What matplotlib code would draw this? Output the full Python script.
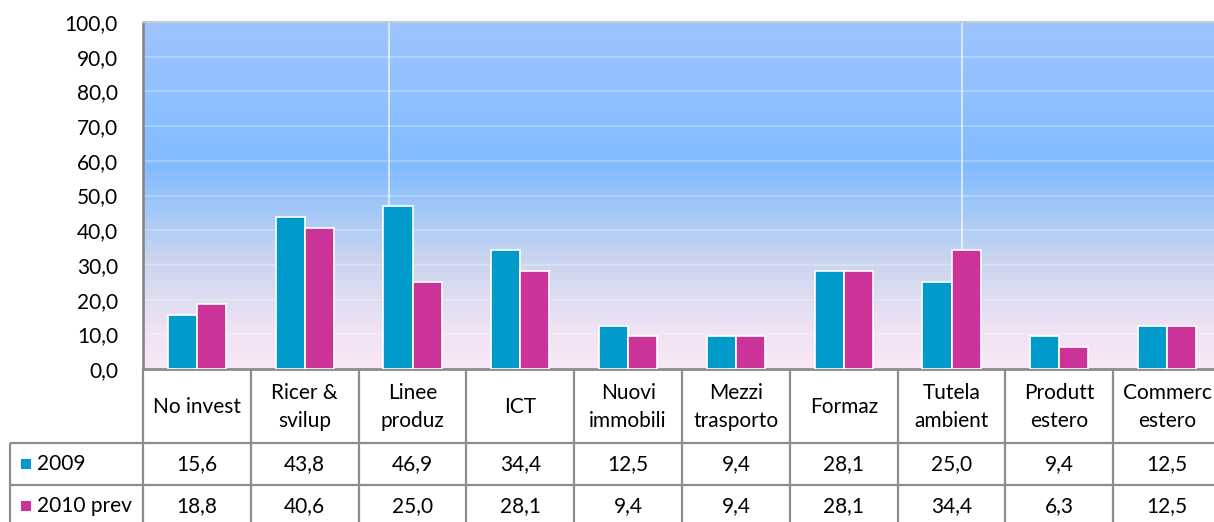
import matplotlib
matplotlib.use("Agg")
import matplotlib.pyplot as plt
import numpy as np
from matplotlib.colors import LinearSegmentedColormap

# --- data -------------------------------------------------------------
categories = ["No invest", "Ricer &\nsvilup", "Linee\nproduz", "ICT",
              "Nuovi\nimmobili", "Mezzi\ntrasporto", "Formaz",
              "Tutela\nambient", "Produtt\nestero", "Commerc\nestero"]
series_names = ["2009", "2010 prev"]
values_2009 = [15.6, 43.8, 46.9, 34.4, 12.5, 9.4, 28.1, 25.0, 9.4, 12.5]
values_2010 = [18.8, 40.6, 25.0, 28.1, 9.4, 9.4, 28.1, 34.4, 6.3, 12.5]
y_ticks = [0, 10, 20, 30, 40, 50, 60, 70, 80, 90, 100]

colors = ["#009BCB", "#CC3399"]
grey = "#8C8C8C"

plt.rcParams["font.family"] = ["Lato", "DejaVu Sans"]

W, H = 1214, 522
fig = plt.figure(figsize=(W / 100, H / 100), dpi=100)
fig.patch.set_facecolor("white")

col_w = 107.8          # width of one category column, px
x0 = 143               # left edge of plot, px
plot_top, plot_bot = 22, 369
n = len(categories)

ax = fig.add_axes([x0 / W, (H - plot_bot) / H, n * col_w / W,
                   (plot_bot - plot_top) / H])
ax.set_xlim(-0.5, n - 0.5)
ax.set_ylim(0, 100)

# gradient plot-area background
bg = LinearSegmentedColormap.from_list(
    "bg", [(0.0, "#FAE8F8"), (0.12, "#EEE2F3"), (0.32, "#C8D5F0"),
           (0.58, "#82BCFF"), (0.8, "#90C1FF"), (1.0, "#9EC4FE")])
grad = np.linspace(0, 1, 256).reshape(-1, 1)
ax.imshow(grad, cmap=bg, origin="lower", aspect="auto",
          extent=(-0.5, n - 0.5, 0, 100), zorder=0)

# gridlines
for t in y_ticks[1:-1]:
    ax.axhline(t, color="white", lw=1.4, alpha=0.25, zorder=1)
for xv in (1.78, 7.10):
    ax.axvline(xv, color="white", lw=1.2, alpha=0.75, zorder=1)

x = np.arange(n)
bw = 0.27
ax.bar(x - bw / 2, values_2009, bw, color=colors[0], edgecolor="white",
       lw=1.2, zorder=3)
ax.bar(x + bw / 2, values_2010, bw, color=colors[1], edgecolor="white",
       lw=1.2, zorder=3)

fs = 15
ax.set_yticks(y_ticks)
ax.set_yticklabels([f"{t:.1f}".replace(".", ",") for t in y_ticks],
                   fontsize=fs, color="black")
ax.tick_params(axis="y", length=0, pad=18)
ax.set_xticks([])
ax.spines["right"].set_visible(False)
ax.spines["top"].set_color("#C4C9D2")
ax.spines["top"].set_linewidth(1.5)
ax.spines["left"].set_color(grey)
ax.spines["left"].set_linewidth(2)
ax.spines["bottom"].set_color(grey)
ax.spines["bottom"].set_linewidth(2)

# --- data table ---------------------------------------------------------
tab = fig.add_axes([x0 / W, 0, n * col_w / W, (H - plot_bot) / H])
tab.set_xlim(-0.5, n - 0.5)
tab.set_ylim(H, plot_bot)
tab.axis("off")


def px(xp):
    return (xp - x0) / col_w - 0.5


row1, row2, row3 = 443, 485, 527
left = px(10)
lk = dict(color=grey, lw=1.6, clip_on=False, solid_capstyle="butt")
for i in range(n + 1):
    tab.plot([i - 0.5, i - 0.5], [plot_bot, H], **lk)
tab.plot([left, left], [row1, H], **lk)
tab.plot([left, n - 0.5], [row1, row1], **lk)
tab.plot([left, n - 0.5], [row2, row2], **lk)

for i, c in enumerate(categories):
    tab.text(i, (plot_bot + row1) / 2 + 1, c, ha="center", va="center",
             fontsize=fs, linespacing=1.55, clip_on=True)
    tab.text(i, (row1 + row2) / 2, f"{values_2009[i]:.1f}".replace(".", ","),
             ha="center", va="center", fontsize=fs)
    tab.text(i, (row2 + row3) / 2, f"{values_2010[i]:.1f}".replace(".", ","),
             ha="center", va="center", fontsize=fs)

for name, col, yc in zip(series_names, colors,
                         [(row1 + row2) / 2, (row2 + row3) / 2]):
    tab.plot([px(26)], [yc], marker="s", ms=7.5, color=col, mew=0,
             clip_on=False)
    tab.text(px(37), yc, name, ha="left", va="center", fontsize=fs)

fig.savefig("out.png", dpi=100)
